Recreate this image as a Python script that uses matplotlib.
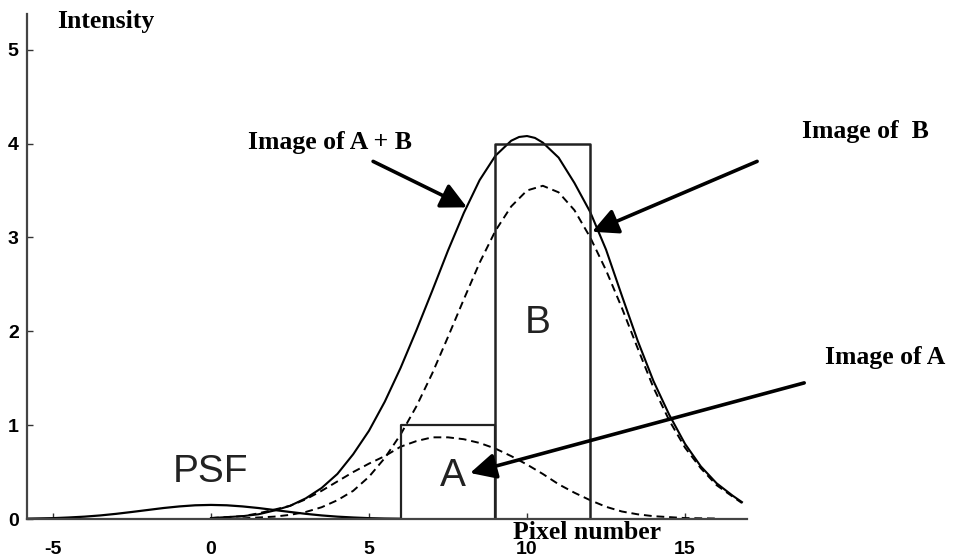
import matplotlib.pyplot as plt

plt.rcParams['axes.unicode_minus'] = False

# curves (pixel number vs intensity)
psf_x = [-5.8, -5, -4.5, -4, -3.5, -3, -2.5, -2, -1.5, -1, -0.5, 0, 0.5, 1, 1.5, 2, 2.5, 3, 3.5, 4, 4.5, 5, 5.5, 6]
psf_y = [0.004, 0.009, 0.016, 0.025, 0.038, 0.055, 0.075, 0.096, 0.117, 0.134, 0.146, 0.15,
         0.146, 0.134, 0.117, 0.096, 0.075, 0.055, 0.038, 0.025, 0.016, 0.009, 0.005, 0.003]

img_a_x = [0, 1, 1.5, 2, 2.5, 3, 3.5, 4, 4.5, 5, 5.5, 6, 6.5, 7, 7.5, 8, 8.5, 9, 9.5, 10,
           10.5, 11, 11.5, 12, 12.5, 13, 13.5, 14, 15, 16]
img_a_y = [0.01, 0.03, 0.06, 0.10, 0.14, 0.21, 0.30, 0.40, 0.50, 0.59, 0.67, 0.77, 0.83, 0.87, 0.87,
           0.85, 0.81, 0.75, 0.67, 0.58, 0.48, 0.37, 0.28, 0.20, 0.13, 0.08, 0.05, 0.03, 0.01, 0.005]

img_b_x = [1, 2, 2.5, 3, 3.5, 4, 4.5, 5, 5.5, 6, 6.5, 7, 7.5, 8, 8.5, 9, 9.5, 10, 10.5, 11,
           11.5, 12, 12.5, 13, 13.5, 14, 14.5, 15, 15.5, 16, 16.5, 16.8]
img_b_y = [0.007, 0.025, 0.044, 0.075, 0.125, 0.20, 0.30, 0.45, 0.65, 0.90, 1.20, 1.55, 1.94, 2.34,
           2.73, 3.07, 3.33, 3.50, 3.55, 3.48, 3.29, 3.00, 2.65, 2.25, 1.82, 1.40, 1.05, 0.76, 0.54,
           0.36, 0.24, 0.17]

img_ab_x = [0, 1, 1.5, 2, 2.5, 3, 3.5, 4, 4.5, 5, 5.5, 6, 6.5, 7, 7.5, 8, 8.5, 9, 9.5, 9.75, 10,
            10.25, 10.5, 11, 11.5, 12, 12.5, 13, 13.5, 14, 14.5, 15, 15.5, 16, 16.5, 16.8]
img_ab_y = [0.01, 0.03, 0.05, 0.09, 0.14, 0.22, 0.33, 0.48, 0.69, 0.94, 1.25, 1.61, 2.01, 2.43, 2.86,
            3.26, 3.61, 3.87, 4.03, 4.07, 4.08, 4.06, 4.01, 3.85, 3.58, 3.27, 2.87, 2.38, 1.90, 1.47,
            1.11, 0.80, 0.56, 0.38, 0.25, 0.18]

# the two objects: A (pixels 6-9, height 1) and B (pixels 9-12, height 4)
rect_a_x = [6, 6, 9, 9]
rect_a_y = [0, 1, 1, 0]
rect_b_x = [9, 9, 12, 12]
rect_b_y = [0, 4, 4, 0]

x_ticks = [-5, 0, 5, 10, 15]
y_ticks = [0, 1, 2, 3, 4, 5]

W, H = 954, 557
fig = plt.figure(figsize=(W / 100, H / 100), dpi=100)
ax = fig.add_axes([27 / W, 38 / H, 720 / W, 505 / H])

# images and psf
ax.plot(psf_x, psf_y, color='black', lw=1.6)
ax.plot(img_ab_x, img_ab_y, color='black', lw=1.5)
ax.plot(img_b_x, img_b_y, color='black', lw=1.4, dashes=(4, 2.5))
ax.plot(img_a_x, img_a_y, color='black', lw=1.4, dashes=(4, 2.5))

# objects
ax.plot(rect_a_x, rect_a_y, color='#222222', lw=1.6)
ax.plot(rect_b_x, rect_b_y, color='#222222', lw=1.8)

ax.text(0, 0.5, 'PSF', fontsize=28, family='Liberation Sans', color='#222222', ha='center', va='center')
ax.text(7.66, 0.46, 'A', fontsize=28, family='Liberation Sans', color='#222222', ha='center', va='center')
ax.text(10.35, 2.09, 'B', fontsize=28, family='Liberation Sans', color='#222222', ha='center', va='center')

# arrows to the curves
arrow = dict(arrowstyle='-|>,head_length=0.6,head_width=0.3', lw=2.6, color='black',
             mutation_scale=26, shrinkA=0, shrinkB=0)
ax.annotate('', xy=(8.10, 3.32), xytext=(5.13, 3.81), arrowprops=arrow, annotation_clip=False)
ax.annotate('', xy=(12.06, 3.06), xytext=(17.28, 3.81), arrowprops=arrow, annotation_clip=False)
ax.annotate('', xy=(8.20, 0.49), xytext=(18.77, 1.45), arrowprops=arrow, annotation_clip=False)

ax.set_xlim(-5.82, 16.96)
ax.set_ylim(0, 5.38)
ax.set_xticks(x_ticks)
ax.set_yticks(y_ticks)
ax.tick_params(direction='in', length=4, width=1, colors='#333333')
ax.tick_params(axis='x', pad=16)
ax.tick_params(axis='y', pad=6)
for lab in ax.get_xticklabels() + ax.get_yticklabels():
    lab.set_fontfamily('Liberation Sans')
    lab.set_fontweight('bold')
    lab.set_fontsize(14)
    lab.set_color('black')

ax.spines['top'].set_visible(False)
ax.spines['right'].set_visible(False)
for s in ['left', 'bottom']:
    ax.spines[s].set_color('#444444')
    ax.spines[s].set_linewidth(1.6)

# labels, in pixel positions of the original
lab_font = dict(family='Liberation Serif', fontweight='bold', fontsize=18.5, va='baseline')
fig.text(57 / W, 1 - 28 / H, 'Intensity', **lab_font)
fig.text(248 / W, 1 - 149 / H, 'Image of A + B', **lab_font)
fig.text(802 / W, 1 - 138 / H, 'Image of  B', **lab_font)
fig.text(825 / W, 1 - 364 / H, 'Image of A', **lab_font)
fig.text(513 / W, 1 - 539 / H, 'Pixel number', zorder=5, **lab_font)

fig.savefig('out.png', dpi=100)
